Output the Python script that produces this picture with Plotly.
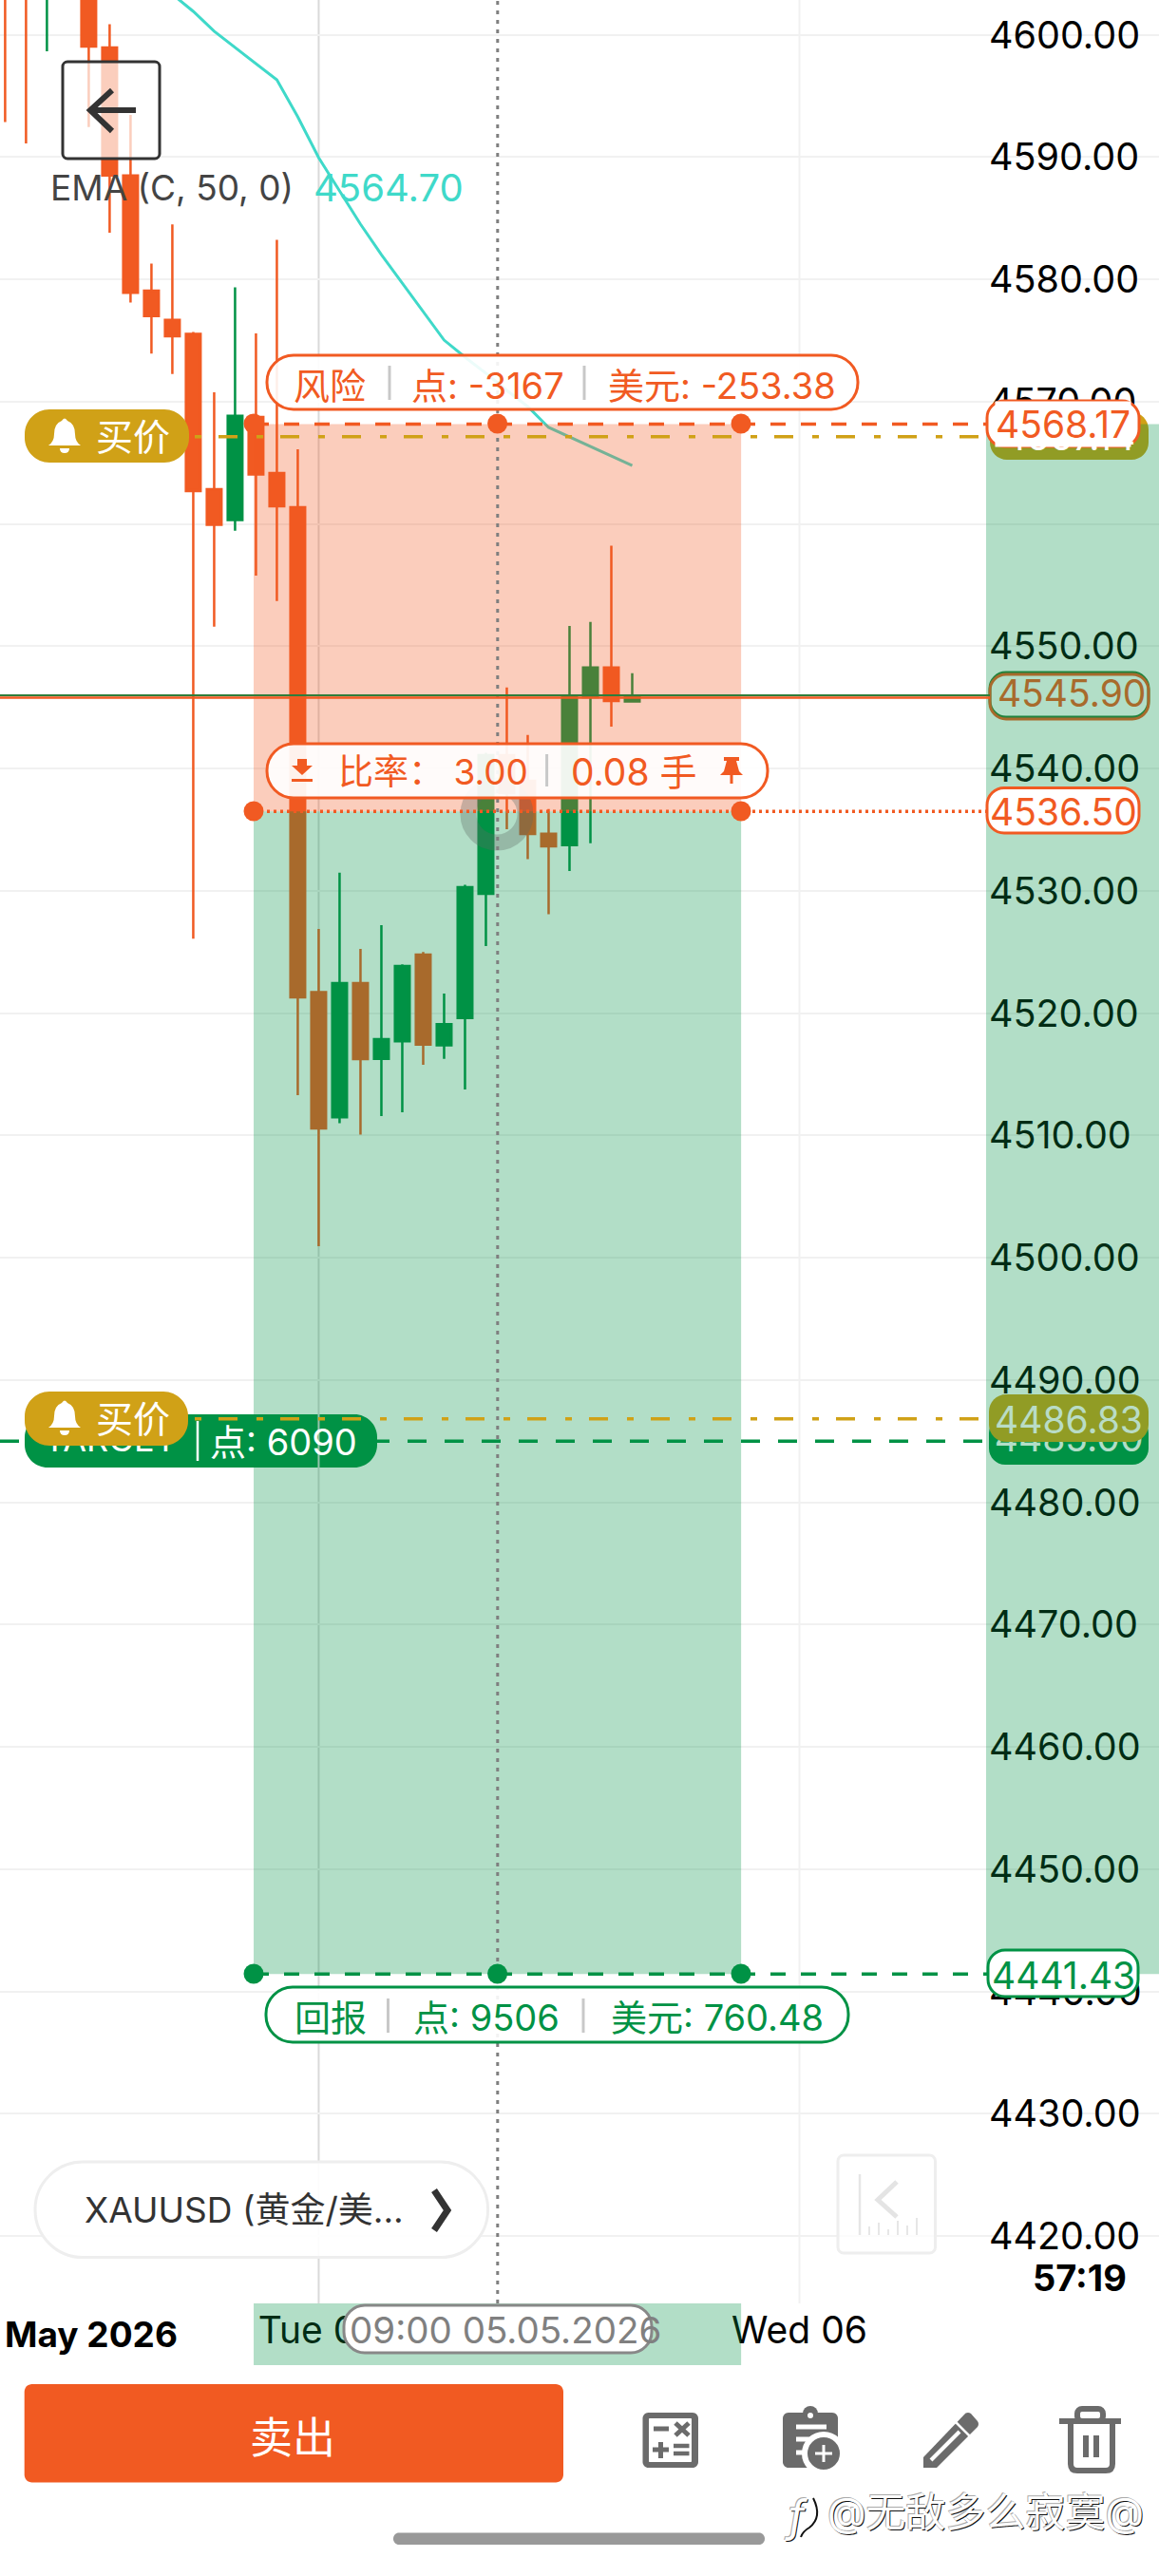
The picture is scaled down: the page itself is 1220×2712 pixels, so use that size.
import plotly.graph_objects as go

W, H = 1220, 2712
ORANGE = "#F15A22"
GREEN = "#009245"
GOLD = "#D0A117"
TEAL = "#3FD9C9"
FONT = "Inter, 'Noto Sans CJK SC', sans-serif"

# ---- data ----
candle_index = list(range(31))
opens  = [4618, 4616, 4606, 4612, 4606, 4598.97, 4588.5, 4579.08, 4576.7, 4575.55, 4562.85, 4560.33, 4568.75, 4564.17, 4561.37, 4521.72,
          4511.5, 4522.46, 4516.27, 4517.7, 4524.8, 4517.38, 4519.6, 4529.76, 4541.1, 4539.0, 4534.68, 4533.75, 4545.85, 4548.27, 4545.5]
highs  = [4620, 4618, 4615, 4614, 4608, 4600.87, 4593.45, 4581.29, 4584.5, 4575.7, 4570.77, 4579.35, 4575.59, 4583.23, 4566.11, 4526.89,
          4531.5, 4525.26, 4527.2, 4524.0, 4525.0, 4521.6, 4530.5, 4541.3, 4546.64, 4542.75, 4536.7, 4551.66, 4552.0, 4558.23, 4547.8]
lows   = [4592.86, 4591.12, 4598.65, 4604, 4592.47, 4583.82, 4578.12, 4573.93, 4572.26, 4526.1, 4551.6, 4559.45, 4555.78, 4553.71, 4513.29, 4500.95,
          4511.0, 4510.07, 4511.58, 4511.9, 4515.78, 4516.27, 4513.76, 4525.5, 4535.05, 4532.6, 4528.1, 4531.63, 4533.9, 4543.43, 4545.45]
closes = [4610, 4609, 4612, 4606, 4599.04, 4588.5, 4578.9, 4577.01, 4575.35, 4562.7, 4559.93, 4568.85, 4564.05, 4561.45, 4521.29, 4510.58,
          4522.46, 4516.25, 4517.87, 4523.86, 4517.44, 4519.1, 4530.3, 4541.1, 4538.0, 4534.66, 4533.64, 4545.85, 4548.27, 4545.53, 4545.85]
ema_index = list(range(8, 31))
ema_values = [4603.32, 4601.92, 4600.29, 4598.97, 4597.65, 4596.33, 4593.30, 4589.96, 4587.24, 4584.52, 4582.03, 4579.70,
              4577.37, 4575.04, 4573.65, 4572.33, 4570.93, 4569.61, 4567.90, 4567.12, 4566.35, 4565.57, 4564.79]
price_ticks = [4600, 4590, 4580, 4570, 4560, 4550, 4540, 4530, 4520, 4510, 4500, 4490, 4480, 4470, 4460, 4450, 4440, 4430, 4420]
price_labels = ["" if p == 4560 else f"{p}.00" for p in price_ticks]
day_ticks = [15, 38]
day_labels = ["Tue 05", "Wed 06"]
entry, stop, target, tp = 4536.50, 4568.17, 4441.43, 4485.00
ask, bid, last = 4546.0, 4545.8, 4545.90
alert_hi, alert_lo = 4567.14, 4486.83
tool_left, tool_mid, tool_right = 11.89, 23.56, 35.21

# ---- pixel helpers for the app chrome ----
def X(x): return x / W
def Y(y): return 1 - y / H
def P(pts):
    out = []
    for t in pts:
        c = t[0]
        vals = t[1:]
        s = c
        for i in range(0, len(vals), 2):
            s += f" {X(vals[i]):.6f},{Y(vals[i+1]):.6f}"
        out.append(s)
    return " ".join(out)
def rrect(x0, y0, x1, y1, r):
    k = r * 0.45
    return [("M", x0 + r, y0), ("L", x1 - r, y0), ("C", x1 - k, y0, x1, y0 + k, x1, y0 + r),
            ("L", x1, y1 - r), ("C", x1, y1 - k, x1 - k, y1, x1 - r, y1),
            ("L", x0 + r, y1), ("C", x0 + k, y1, x0, y1 - k, x0, y1 - r),
            ("L", x0, y0 + r), ("C", x0, y0 + k, x0 + k, y0, x0 + r, y0), ("Z",)]

shapes = []
def S(**k):
    k.setdefault("layer", "above")
    shapes.append(k)
def pill(x0, y0, x1, y1, r, fill="rgba(0,0,0,0)", line=None, lw=3, layer="above"):
    S(type="path", xref="paper", yref="paper", path=P(rrect(x0, y0, x1, y1, r)), fillcolor=fill,
      line=dict(color=line or "rgba(0,0,0,0)", width=lw if line else 0), layer=layer)
def path(pts, fill="rgba(0,0,0,0)", line=None, lw=0, layer="above"):
    S(type="path", xref="paper", yref="paper", path=P(pts), fillcolor=fill,
      line=dict(color=line or "rgba(0,0,0,0)", width=lw), layer=layer)
def seg(x0, y0, x1, y1, color, lw, dash="solid"):
    S(type="line", xref="paper", yref="paper", x0=X(x0), x1=X(x1), y0=Y(y0), y1=Y(y1), line=dict(color=color, width=lw, dash=dash))
def dot(cx, cy, r, color, line=None, lw=0, layer="above"):
    S(type="circle", xref="paper", yref="paper", x0=X(cx - r), x1=X(cx + r), y0=Y(cy + r), y1=Y(cy - r),
      fillcolor=color, line=dict(color=line or "rgba(0,0,0,0)", width=lw), layer=layer)
def hline(price, x0, x1, color, lw, dash="solid"):
    S(type="line", xref="paper", yref="y", x0=X(x0), x1=X(x1), y0=price, y1=price, line=dict(color=color, width=lw, dash=dash))
def bell(cx, cy):
    path([("M", cx - 3, cy - 16), ("Q", cx, cy - 21, cx + 3, cy - 16), ("Q", cx + 11, cy - 13, cx + 11, cy - 2),
          ("Q", cx + 11, cy + 6, cx + 17, cy + 10), ("L", cx - 17, cy + 10), ("Q", cx - 11, cy + 6, cx - 11, cy - 2),
          ("Q", cx - 11, cy - 13, cx - 3, cy - 16), ("Z",),
          ("M", cx - 5, cy + 13), ("L", cx + 5, cy + 13), ("Q", cx + 5, cy + 18, cx, cy + 18), ("Q", cx - 5, cy + 18, cx - 5, cy + 13), ("Z",)],
         fill="white")

anns = []
def T(x, y, text, size=38, color="#000", anchor="center", **font):
    anns.append(dict(xref="paper", yref="paper", x=X(x), y=Y(y), text=text, showarrow=False, xanchor=anchor, yanchor="middle",
                     font=dict(family=FONT, size=size, color=color, **font), borderpad=0))

# mask for grid behind the price labels, and pills below the trade-tool tint
S(type="rect", xref="paper", yref="paper", x0=X(1038), x1=X(1206), y0=Y(2425), y1=1, fillcolor="white", line=dict(width=0), layer="between")
pill(1042, 708, 1209, 755, 17, fill="white", line="#2f7d3a", lw=3, layer="between")
pill(1042, 710, 1209, 757, 17, fill="rgba(255,255,255,0)", line=ORANGE, lw=3, layer="between")
pill(1041, 1492, 1209, 1542, 17, fill=GREEN, layer="between")
pill(26, 1489, 397, 1545, 24, fill=GREEN, layer="between")

# day grid lines
S(type="line", xref="x", yref="paper", x0=day_ticks[0], x1=day_ticks[0], y0=Y(0), y1=Y(2425), line=dict(color="#d9d9d9", width=2), layer="between")
S(type="line", xref="x", yref="paper", x0=day_ticks[1], x1=day_ticks[1], y0=Y(0), y1=Y(2425), line=dict(color="#f1f1f1", width=2), layer="between")

# gold price flags (tinted by the band painted after them)
pill(1042, 434, 1209, 484, 18, fill=GOLD)
pill(1041, 1468, 1209, 1518, 18, fill=GOLD)

# trade-tool zones
S(type="rect", xref="x", yref="y", x0=tool_left, x1=tool_right, y0=entry, y1=stop, fillcolor="rgba(241,90,34,0.3)", line=dict(width=0))
S(type="rect", xref="x", yref="y", x0=tool_left, x1=tool_right, y0=target, y1=entry, fillcolor="rgba(0,146,69,0.3)", line=dict(width=0))
S(type="rect", xref="paper", yref="y", x0=X(1038), x1=1, y0=target, y1=stop, fillcolor="rgba(0,146,69,0.3)", line=dict(width=0))
S(type="rect", xref="x", yref="paper", x0=tool_left, x1=tool_right, y0=Y(2490), y1=Y(2425), fillcolor="rgba(0,146,69,0.3)", line=dict(width=0))

# touch indicator
dot(523, 857, 30, "rgba(0,0,0,0)", line="rgba(95,105,100,0.33)", lw=17)

# crosshair and horizontal levels
S(type="line", xref="x", yref="paper", x0=tool_mid, x1=tool_mid, y0=Y(2425), y1=1, line=dict(color="#7f7f7f", width=3, dash="4px,6px"))
hline(ask, 0, 1042, "#2f7d3a", 2)
hline(bid, 0, 1042, ORANGE, 2.5)
hline(alert_hi, 100, 1040, GOLD, 3.5, "20px,20px,7px,18px")
hline(alert_lo, 100, 1040, GOLD, 3.5, "20px,20px,7px,18px")
hline(tp, 0, 1042, GREEN, 3.5, "20px,19px")
hline(stop, 267, 1040, ORANGE, 3.5, "16px,16px")
hline(entry, 267, 1040, ORANGE, 3.5, "3px,4px")
hline(target, 267, 1040, GREEN, 3.5, "16px,16px")

# tool handles
for cx, cy, col in [(267, 446, ORANGE), (523.6, 446, ORANGE), (780, 446, ORANGE), (267, 854, ORANGE), (780, 854, ORANGE),
                    (267, 2078, GREEN), (523.6, 2078, GREEN), (780, 2078, GREEN)]:
    dot(cx, cy, 10.5, col)

# risk pill
pill(281, 374, 903, 431, 28, fill="rgba(255,255,255,0.9)", line=ORANGE)
seg(410, 385, 410, 421, "#c8c8c8", 3)
seg(615, 385, 615, 421, "#c8c8c8", 3)
T(347, 406, "风险", 38, ORANGE)
T(513, 406, "点: -3167", 38, ORANGE)
T(760, 406, "美元: -253.38", 38, ORANGE)

# ratio pill
pill(281, 783, 808, 840, 28, fill="rgba(255,255,255,0.92)", line=ORANGE)
path([("M", 313, 799), ("L", 323, 799), ("L", 323, 806), ("L", 329, 806), ("L", 318, 816), ("L", 307, 806), ("L", 313, 806), ("Z",)], fill=ORANGE)
path([("M", 307, 820), ("L", 329, 820), ("L", 329, 823), ("L", 307, 823), ("Z",)], fill=ORANGE)
seg(575.6, 794, 575.6, 828, "#c8c8c8", 3)
T(456, 812, "比率： 3.00", 37, ORANGE)
T(667, 812, "0.08 手", 39, ORANGE)
path([("M", 762, 797), ("L", 778, 797), ("L", 778, 801), ("L", 775, 801), ("L", 778, 812), ("L", 782, 816), ("L", 771.5, 816), ("L", 771.5, 825),
      ("L", 768.5, 825), ("L", 768.5, 816), ("L", 758, 816), ("L", 762, 812), ("L", 765, 801), ("L", 762, 801), ("Z",)], fill=ORANGE)

# return pill
pill(280, 2092, 893, 2150, 28, fill="rgba(255,255,255,0.9)", line=GREEN)
seg(408.5, 2104, 408.5, 2140, "#c8c8c8", 3)
seg(614, 2104, 614, 2140, "#c8c8c8", 3)
T(348, 2124, "回报", 38, GREEN)
T(512, 2124, "点: 9506", 38, GREEN)
T(755, 2124, "美元: 760.48", 38, GREEN)

# price flags
T(1125, 459, "4567.14", 39, "#ffffff")
pill(1039, 422, 1199, 470, 18, fill="white", line=ORANGE)
anns.append(dict(xref="paper", yref="paper", x=X(1119), y=Y(447), text="4568.17", showarrow=False, xanchor="center", yanchor="middle",
                 font=dict(family=FONT, size=39, color=ORANGE), bgcolor="white", borderpad=0))
pill(1039, 829.5, 1199, 877, 18, fill="white", line=ORANGE)
T(1119, 854, "4536.50", 39, ORANGE)
pill(1040, 2053, 1198, 2102, 18, fill="white", line=GREEN)
T(1119, 2079, "4441.43", 39, GREEN)
T(1125, 1494, "4486.83", 39, "#b9dcc6")

# alert flags on the left
pill(26, 431, 199, 487, 26, fill=GOLD)
bell(68, 459)
T(140, 459, "买价", 39, "white")
pill(26, 1465, 198, 1522, 26, fill=GOLD)
bell(68, 1493)
T(140, 1493, "买价", 39, "white")
seg(208, 1496, 208, 1538, "white", 2.5)
T(298, 1518, "点: 6090", 38, "white")

# back button + EMA legend
pill(66, 65, 168, 167, 5, fill="rgba(255,255,255,0.7)", line="#333333", lw=3)
seg(95, 116, 143, 116, "#333333", 6)
path([("M", 118, 95), ("L", 95, 116), ("L", 118, 138)], line="#333333", lw=6)
T(52, 197, "EMA (C, 50, 0)", 37, "#444444", "left")
T(329, 197, "4564.70", 40, TEAL, "left")

# symbol pill, jump button, timer, dates
pill(37, 2276, 513.6, 2376.6, 50, fill="rgba(255,255,255,0.9)", line="#eeeeee", lw=3)
T(88, 2326, "XAUUSD (黄金/美...", 37, "#333333", "left")
path([("M", 457, 2306), ("L", 471, 2327), ("L", 457, 2348)], line="#333333", lw=7)
pill(882, 2269, 984.5, 2372, 6, fill="rgba(255,255,255,0.8)", line="#eeeeee", lw=3)
seg(905, 2289, 905, 2353, "#e6e6e6", 2.5)
path([("M", 944, 2297), ("L", 924, 2316), ("L", 944, 2334)], line="#e4e4e4", lw=5)
for bx, by in [(915, 2344), (925, 2340), (935, 2347), (945, 2338), (955, 2343), (965, 2335)]:
    seg(bx, by, bx, 2353, "#e6e6e6", 2)
T(1136, 2398, "57:19", 38, "#000", weight="bold")
T(96, 2457, "May 2026", 37, "#000", weight="bold")
pill(362, 2427, 686, 2477, 22, fill="white", line="#888888", lw=3)
T(532, 2453, "09:00 05.05.2026", 38.5, "#808080")

# sell button
pill(25.7, 2510, 593, 2613.5, 8, fill=ORANGE)
T(308, 2566, "卖出", 45, "white")

# tool icons
G = "#6b6b6b"
pill(676.5, 2540, 735, 2598, 6, fill=G)
pill(683, 2546, 728, 2592, 1, fill="white")
seg(688, 2557, 704, 2557, G, 5)
seg(711, 2551, 725, 2564, G, 5)
seg(725, 2551, 711, 2564, G, 5)
seg(687, 2579, 704, 2579, G, 5)
seg(695.5, 2571, 695.5, 2588, G, 5)
seg(709, 2575, 725.5, 2575, G, 4.5)
seg(709, 2583, 725.5, 2583, G, 4.5)

pill(824, 2540, 882, 2598, 6, fill=G)
dot(853, 2541, 8, G)
dot(853, 2543, 3, "white")
seg(838, 2555, 870, 2555, "white", 5)
seg(838, 2568, 853, 2568, "white", 5)
seg(838, 2582, 848, 2582, "white", 5)
dot(867, 2583, 20, G, line="white", lw=6)
seg(858, 2583, 876, 2583, "white", 3)
seg(867, 2574, 867, 2592, "white", 3)

path([("M", 972, 2598), ("L", 972, 2587), ("L", 1016, 2541), ("Q", 1019, 2539, 1022, 2541), ("L", 1029, 2549), ("Q", 1031, 2552, 1029, 2555),
      ("L", 986, 2598), ("Z",)], fill=G)
seg(980, 2590, 1010, 2560, "white", 4)
seg(1006, 2550, 1021, 2565, "white", 2.5)

seg(1115, 2549, 1180, 2549, G, 6)
pill(1134, 2536, 1161, 2549, 5, line=G, lw=6)
path([("M", 1127, 2552), ("L", 1127, 2594), ("Q", 1127, 2601, 1134, 2601), ("L", 1164, 2601), ("Q", 1171, 2601, 1171, 2594), ("L", 1171, 2552)], line=G, lw=6)
seg(1143, 2564, 1143, 2587, G, 6)
seg(1154, 2564, 1154, 2587, G, 6)

# home bar and watermark
pill(414, 2666.5, 805, 2679, 6, fill="#999999")
SH = "1px 1px 0 #111, -1px -1px 0 #aaa"
T(838, 2648, "f", 46, "white", shadow=SH, style="italic")
path([("M", 856, 2630), ("Q", 866, 2650, 852, 2661), ("Q", 845, 2665, 843, 2671)], line="#111111", lw=2)
T(1037, 2644, "@无敌多么寂寞@", 42, "white", shadow=SH)

fig = go.Figure()
fig.add_trace(go.Candlestick(
    x=candle_index, open=opens, high=highs, low=lows, close=closes, whiskerwidth=0,
    increasing=dict(line=dict(color=GREEN, width=2.5), fillcolor=GREEN),
    decreasing=dict(line=dict(color=ORANGE, width=2.5), fillcolor=ORANGE),
    hoverinfo="skip", showlegend=False))
fig.add_trace(go.Scatter(x=ema_index, y=ema_values, mode="lines", line=dict(color=TEAL, width=3), hoverinfo="skip", showlegend=False))

# labels that lie underneath the green band tint
x_of = lambda px: (px - 5.4) / 22
fig.add_trace(go.Scatter(
    x=[x_of(1128), x_of(1125), x_of(116)], y=[last - 0.1, tp - 0.1, tp - 0.1], mode="text",
    text=["4545.90", "4485.00", "TARGET"], textposition="middle center",
    textfont=dict(family=FONT, size=[39, 39, 36], color=[ORANGE, "white", "white"]),
    cliponaxis=False, hoverinfo="skip", showlegend=False))
# day labels: on the time strip, under the tool tint and the time pill
fig.add_trace(go.Scatter(
    x=day_ticks, y=[4412.0, 4412.0], mode="text", text=day_labels, textposition="middle center",
    textfont=dict(family=FONT, size=39, color="#000"), cliponaxis=False, hoverinfo="skip", showlegend=False))
# invisible carrier so the free-standing price axis (left-aligned labels) is drawn
fig.add_trace(go.Scatter(x=[0], y=[price_ticks[0]], yaxis="y2", mode="markers", marker=dict(opacity=0), hoverinfo="skip", showlegend=False))

y_range = [4602.85 - H / 12.875, 4602.85]
fig.update_layout(
    width=W, height=H, margin=dict(l=0, r=0, t=0, b=0), autosize=False,
    paper_bgcolor="white", plot_bgcolor="white", showlegend=False, hovermode=False,
    boxgap=0.295, boxgroupgap=0, shapes=shapes, annotations=anns,
    font=dict(family=FONT, color="#000"),
    xaxis=dict(range=[-0.245, 55.2], domain=[0, 1], rangeslider=dict(visible=False), showticklabels=False,
               showgrid=False, zeroline=False, showline=False, ticks=""),
    yaxis=dict(range=y_range, domain=[0, 1], tickmode="array", tickvals=price_ticks, showticklabels=False, ticks="",
               showgrid=True, gridcolor="#f1f1f1", gridwidth=2, zeroline=False, showline=False),
    yaxis2=dict(range=y_range, domain=[0, 1], overlaying="y", side="left", anchor="free", position=1037 / W,
                tickmode="array", tickvals=price_ticks, ticktext=price_labels, ticklabelposition="inside", ticks="",
                showgrid=False, zeroline=False, showline=False,
                tickfont=dict(family=FONT, size=39.5, color="#000")),
)
fig.write_html("out.html", config=dict(displayModeBar=False), post_script="document.body.style.margin='0';")
